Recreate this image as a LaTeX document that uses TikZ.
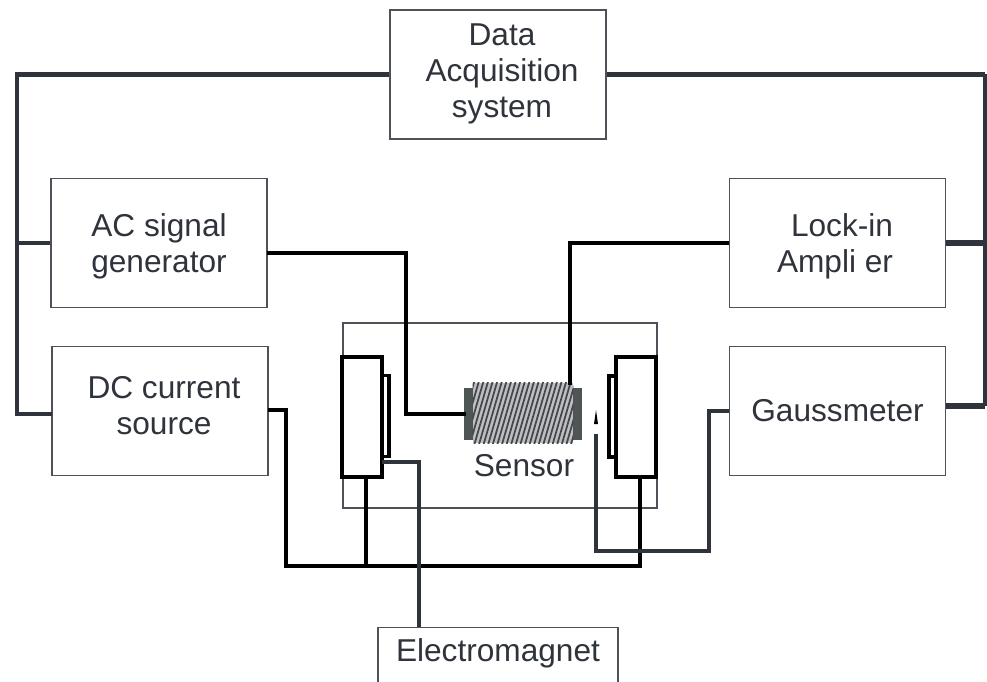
\documentclass[tikz,border=0pt]{standalone}
\usepackage{fontspec}
\setmainfont{Liberation Sans}
\definecolor{inkgray}{HTML}{2F333B}
\definecolor{platec}{HTML}{4F5554}
\usetikzlibrary{positioning}

\begin{document}
\begin{tikzpicture}[
    x=0.02cm, y=-0.02cm,
    % Define node styles
    box/.style={rectangle, draw=inkgray!85, line width=0.8pt, minimum width=4.32cm,
                minimum height=2.58cm, fill=white, inner sep=0pt},
    boxtext/.style={text=inkgray, align=center, inner sep=0pt,
                font=\fontsize{18}{20.5}\selectfont},
    magnet/.style={rectangle, draw=black, line width=2.2pt, minimum width=0.8cm,
                minimum height=2.4cm, inner sep=0pt},
    pole/.style={rectangle, draw=black, line width=1.8pt, minimum width=0.14cm,
                minimum height=1.62cm, inner sep=0pt},
    plate/.style={rectangle, fill=platec, minimum width=2.36cm,
                minimum height=1.04cm, inner sep=0pt},
    coilbox/.style={rectangle, fill=gray!50, minimum width=2cm,
                minimum height=1.2cm, inner sep=0pt},
    blackwire/.style={draw=black, line width=2.4pt, line join=miter},
    graywire/.style={draw=inkgray, line width=2.1pt, line join=miter},
    buswire/.style={draw=inkgray, line width=2.4pt, line join=miter},
    heavywire/.style={draw=inkgray, line width=3.2pt}
]
    \useasboundingbox (0,0) rectangle (987,682);
    \clip (0,0) rectangle (987,682);

    % Create nodes
    \node[box, minimum width=6.28cm, minimum height=3.7cm] (chamber) at (500,415.5) {};
    \node[box] (daq) at (498,74.5) {};
    \node[box] (acgen) at (159,243) {};
    \node[box] (dcsrc) at (160,411) {};
    \node[box] (lockin) at (837.5,243) {};
    \node[box] (gauss) at (837.5,411) {};
    \node[box, minimum width=4.8cm, anchor=north] (emag) at (498,627) {};

    % Box labels
    \node[boxtext] (daqlabel) at (502,74) {Data\\Acquisition\\system};
    \node[boxtext] (aclabel) at (159,246) {AC signal\\generator};
    \node[boxtext] (dclabel) at (164,406) {DC current\\source};
    \node[boxtext, align=right] (locklabel) at (835,246) {Lock-in\\Ampli er};
    \node[boxtext] (gausslabel) at (837.5,411) {Gaussmeter};
    \node[boxtext] (emaglabel) at (498,653) {Electromagnet};

    % Magnets and sensor
    \node[pole] (polel) at (385.5,416) {};
    \node[pole] (poler) at (612.5,416.5) {};
    \node[magnet] (magl) at (362,417) {};
    \node[magnet] (magr) at (636,417) {};
    \node[plate] (plate) at (523,414) {};
    \node[coilbox] (coil) at (523,413) {};
    \begin{scope}
        \clip (coil.south west) rectangle (coil.north east);
        \foreach \i in {-6,...,24} {
            \draw[inkgray!90, line width=1pt] (465+\i*4.6,445) -- (483.6+\i*4.6,381);
        }
    \end{scope}
    \node[boxtext] (senslabel) at (524,466) {Sensor};

    % Free ends of the wires
    \coordinate (leftbus) at (17,74.5);
    \coordinate (rightbus) at (985,74.5);
    \coordinate (acout) at (267,253);
    \coordinate (dcout) at (268,410);
    \coordinate (dcin) at (52,414);
    \coordinate (gaussout) at (946,406);
    \coordinate (sensin) at (466,414);
    \coordinate (sensout) at (570,385);
    \coordinate (maglout) at (366,477);
    \coordinate (magrout) at (640,477);
    \coordinate (emagin) at (382,462);
    \coordinate (emagtop) at (419,627);
    \coordinate (probetop) at (596,434);

    % Draw wires between nodes
    \draw[buswire] (daq.west) -- (leftbus) -- (leftbus |- dcin) -- (dcin);
    \draw[buswire] (acgen.west) -- (leftbus |- acgen.west);
    \draw[heavywire] (daq.east) -- (rightbus);
    \draw[graywire] (rightbus) -- (rightbus |- gaussout);
    \draw[heavywire] (lockin.east) -- (rightbus |- lockin.east);
    \draw[heavywire] (gaussout) -- (rightbus |- gaussout);

    \draw[blackwire] (acout) -- (406,253) -- (406,414) -- (sensin);
    \draw[blackwire] (lockin.west) -- (sensout |- lockin.west) -- (sensout);
    \draw[blackwire] (dcout) -- (286,410) -- (286,566) -| (magrout);
    \draw[blackwire] (maglout) -- (366,566);

    \draw[graywire] (emagin) -| (emagtop);
    \draw[graywire] (probetop) -- (596,551) -- (709,551) -- (709,411) -- (gauss.west);
    \fill[black] (596,410) -- (598,424) -- (594,424) -- cycle;
\end{tikzpicture}
\end{document}
